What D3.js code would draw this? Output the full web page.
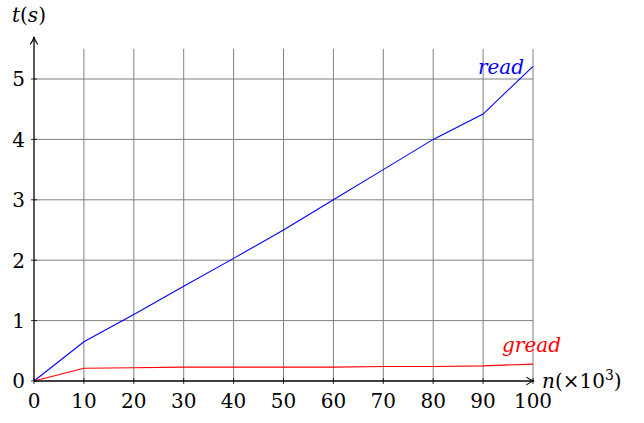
<!DOCTYPE html>
<html>
<head>
<meta charset="utf-8">
<script src="https://cdn.jsdelivr.net/npm/d3@7"></script>
<style>
  html, body { margin: 0; padding: 0; background: #fff; }
</style>
</head>
<body>
<svg id="svg" width="644" height="423"></svg>
<script>
const nValues = [0, 10, 20, 30, 40, 50, 60, 70, 80, 90, 100];
const readTimes = [0, 0.65, 1.1, 1.57, 2.03, 2.5, 3.0, 3.5, 4.0, 4.42, 5.21];
const greadTimes = [0, 0.21, 0.22, 0.23, 0.23, 0.23, 0.23, 0.24, 0.24, 0.25, 0.28];
const xTicks = [0, 10, 20, 30, 40, 50, 60, 70, 80, 90, 100];
const yTicks = [0, 1, 2, 3, 4, 5];

const FONT = 'DejaVu Serif';
const svg = d3.select('#svg').attr('font-family', FONT);
const x = d3.scaleLinear().domain([0, 100]).range([34, 533]);
const y = d3.scaleLinear().domain([0, 5.5]).range([381, 48.8]);

svg.append('defs').html(`
  <marker id="arr" viewBox="0 0 10 10" refX="9" refY="5" markerWidth="9" markerHeight="9" markerUnits="userSpaceOnUse" orient="auto">
    <path d="M1,1 Q5,4 9,5 Q5,6 1,9" fill="none" stroke="#000" stroke-width="1.2" stroke-linecap="round"/>
  </marker>`);

// grid
const grid = svg.append('g').attr('stroke', '#808080').attr('stroke-width', 1);
xTicks.filter(d => d > 0).forEach(d => grid.append('line')
  .attr('x1', x(d)).attr('x2', x(d)).attr('y1', y(0)).attr('y2', y(5.5)));
yTicks.filter(d => d > 0).forEach(d => grid.append('line')
  .attr('x1', x(0)).attr('x2', x(100)).attr('y1', y(d)).attr('y2', y(d)));

// series
const line = d3.line().x((d, i) => x(nValues[i])).y(d => y(d));
svg.append('path').datum(readTimes).attr('d', line).attr('fill', 'none').attr('stroke', '#0000ff').attr('stroke-width', 1.1);
svg.append('path').datum(greadTimes).attr('d', line).attr('fill', 'none').attr('stroke', '#ff0000').attr('stroke-width', 1.1);

// axes
const ax = svg.append('g').attr('stroke', '#000').attr('stroke-width', 1.3);
ax.append('line').attr('x1', x(0)).attr('x2', x(100) + 1).attr('y1', y(0)).attr('y2', y(0)).attr('marker-end', 'url(#arr)');
ax.append('line').attr('x1', x(0)).attr('x2', x(0)).attr('y1', y(0)).attr('y2', 37).attr('marker-end', 'url(#arr)');
xTicks.forEach(d => ax.append('line').attr('x1', x(d)).attr('x2', x(d)).attr('y1', y(0) - 3).attr('y2', y(0) + 3).attr('stroke-width', 0.8));
yTicks.forEach(d => ax.append('line').attr('x1', x(0) - 3).attr('x2', x(0) + 3).attr('y1', y(d)).attr('y2', y(d)).attr('stroke-width', 0.8));

// tick labels
const fs = 20;
svg.append('g').selectAll('text').data(xTicks).enter().append('text')
  .attr('font-family', FONT)
  .attr('x', d => x(d)).attr('y', 408).attr('text-anchor', 'middle')
  .attr('font-size', fs).attr('fill', '#000').text(d => d);
svg.append('g').selectAll('text').data(yTicks).enter().append('text')
  .attr('font-family', FONT)
  .attr('x', 25).attr('y', d => y(d) + 7.3).attr('text-anchor', 'end')
  .attr('font-size', fs).attr('fill', '#000').text(d => d);

// axis labels
const tl = svg.append('text').attr('font-family', FONT).attr('x', 12).attr('y', 22).attr('font-size', fs).attr('fill', '#000');
tl.append('tspan').attr('font-style', 'italic').text('t');
tl.append('tspan').text('(');
tl.append('tspan').attr('font-style', 'italic').text('s');
tl.append('tspan').text(')');

const nl = svg.append('text').attr('font-family', FONT).attr('x', 542).attr('y', 388).attr('font-size', fs).attr('fill', '#000');
nl.append('tspan').attr('font-style', 'italic').text('n');
nl.append('tspan').text('(×10');
nl.append('tspan').attr('font-size', 14).attr('dy', -8).text('3');
nl.append('tspan').attr('dy', 8).text(')');

// series labels
svg.append('text').attr('font-family', FONT).attr('x', 524).attr('y', 74).attr('text-anchor', 'end')
  .attr('font-size', fs).attr('font-style', 'italic').attr('fill', '#0000ff').text('read');
svg.append('text').attr('font-family', FONT).attr('x', 561).attr('y', 352).attr('text-anchor', 'end')
  .attr('font-size', fs).attr('font-style', 'italic').attr('fill', '#ff0000').text('gread');
</script>
</body>
</html>
